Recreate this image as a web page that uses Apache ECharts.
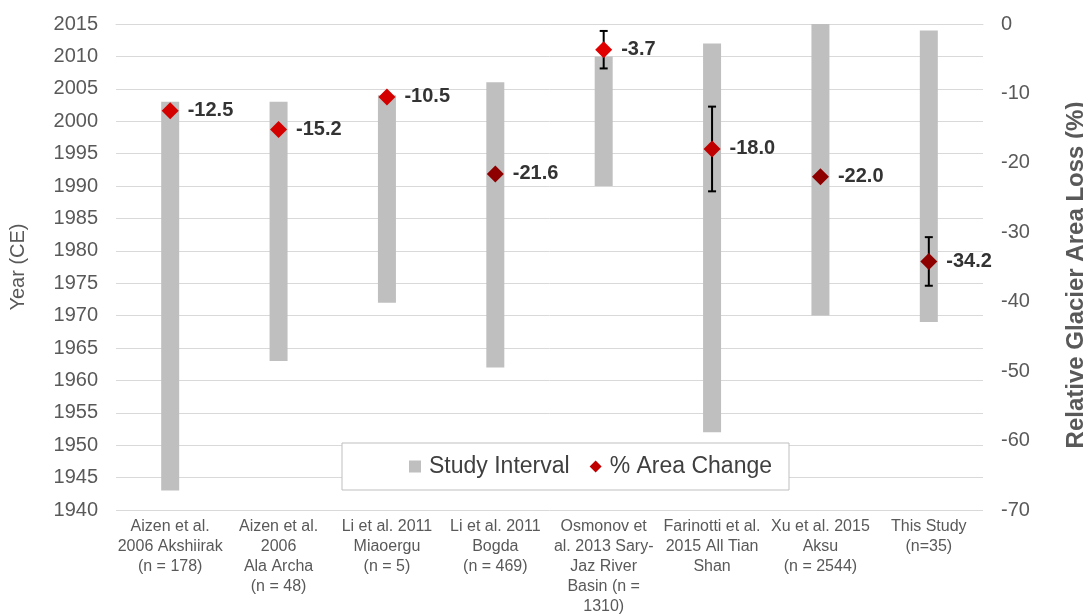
<!DOCTYPE html>
<html>
<head>
<meta charset="utf-8">
<script src="https://cdn.jsdelivr.net/npm/echarts@6/dist/echarts.min.js"></script>
<style>
  html, body { margin: 0; padding: 0; background: #ffffff; }
  #chart { width: 1083px; height: 614px; }
</style>
</head>
<body>
<div id="chart"></div>
<script>
// Studies compared along the horizontal axis
const categories = [
  'Aizen et al.\n2006 Akshiirak\n(n = 178)',
  'Aizen et al.\n2006\nAla Archa\n(n = 48)',
  'Li et al. 2011\nMiaoergu\n(n = 5)',
  'Li et al. 2011\nBogda\n(n = 469)',
  'Osmonov et\nal. 2013 Sary-\nJaz River\nBasin (n =\n1310)',
  'Farinotti et al.\n2015 All Tian\nShan',
  'Xu et al. 2015\nAksu\n(n = 2544)',
  'This Study\n(n=35)'
];

// Study interval (years CE)
const intervalStart = [1943, 1963, 1972, 1962, 1990, 1952, 1970, 1969];
const intervalEnd   = [2003, 2003, 2004, 2006, 2010, 2012, 2015, 2014];

// Relative glacier area change (%)
const areaChange = [-12.5, -15.2, -10.5, -21.6, -3.7, -18.0, -22.0, -34.2];

// Uncertainty range of the area change (%), null where none reported
const errorLow  = [null, null, null, null, -6.4, -24.1, null, -37.7];
const errorHigh = [null, null, null, null, -1.0, -11.9, null, -30.7];

// Axis ranges and tick steps
const yearAxis = { min: 1940, max: 2015, step: 5 };
const lossAxis = { min: -70, max: 0, step: 10 };

// Marker fill per study
const markerColors = ['#d40000', '#d40000', '#d40000', '#8e0000', '#e00000', '#c00000', '#8e0000', '#8e0000'];

const FONT = '"Liberation Sans", Arial, Helvetica, sans-serif';
const chart = echarts.init(document.getElementById('chart'), null, { renderer: 'canvas' });

const errorData = [];
areaChange.forEach((v, i) => {
  if (errorLow[i] !== null) errorData.push([i, errorLow[i], errorHigh[i]]);
});

chart.setOption({
  animation: false,
  backgroundColor: '#ffffff',
  textStyle: { fontFamily: FONT },
  grid: { left: 116, right: 100, top: 24, bottom: 104, containLabel: false, outerBoundsMode: 'none' },
  legend: {
    data: [
      { name: 'Study Interval', icon: 'rect' },
      { name: '% Area Change', icon: 'diamond' }
    ],
    left: 342,
    top: 443,
    padding: [12, 17, 12, 67],
    itemGap: 20,
    itemWidth: 12,
    itemHeight: 12,
    backgroundColor: '#ffffff',
    borderColor: '#bfbfbf',
    borderWidth: 1,
    textStyle: { fontFamily: FONT, fontSize: 23, color: '#404040', padding: [0, 0, 0, 3] }
  },
  xAxis: {
    type: 'category',
    data: categories,
    axisTick: { show: false },
    axisLine: { lineStyle: { color: '#d9d9d9', width: 1 } },
    axisLabel: {
      interval: 0,
      color: '#595959',
      fontFamily: FONT,
      fontSize: 16,
      lineHeight: 20,
      margin: 7,
      align: 'center'
    }
  },
  yAxis: [
    {
      type: 'value',
      min: yearAxis.min,
      max: yearAxis.max,
      interval: yearAxis.step,
      name: 'Year (CE)',
      nameLocation: 'middle',
      nameRotate: 90,
      nameGap: 88,
      nameTextStyle: { fontFamily: FONT, fontSize: 20, color: '#595959' },
      axisLine: { show: false },
      axisTick: { show: false },
      axisLabel: { color: '#595959', fontFamily: FONT, fontSize: 20, margin: 18, formatter: v => String(v) },
      splitLine: { lineStyle: { color: '#d9d9d9', width: 1 } }
    },
    {
      type: 'value',
      position: 'right',
      min: lossAxis.min,
      max: lossAxis.max,
      interval: lossAxis.step,
      name: 'Relative Glacier Area Loss (%)',
      nameLocation: 'middle',
      nameRotate: 90,
      nameGap: 81,
      nameTextStyle: { fontFamily: FONT, fontSize: 24, fontWeight: 'bold', color: '#595959', padding: [0, 16, 0, 0] },
      axisLine: { show: false },
      axisTick: { show: false },
      axisLabel: { color: '#595959', fontFamily: FONT, fontSize: 20, margin: 18, formatter: v => String(v) },
      splitLine: { show: false }
    }
  ],
  series: [
    {
      // invisible base that lifts each interval bar to its start year
      name: 'base',
      type: 'bar',
      stack: 'interval',
      barWidth: 18,
      silent: true,
      itemStyle: { color: 'rgba(0,0,0,0)' },
      data: intervalStart
    },
    {
      name: 'Study Interval',
      type: 'bar',
      stack: 'interval',
      barWidth: 18,
      itemStyle: { color: '#bfbfbf' },
      data: intervalEnd.map((e, i) => e - intervalStart[i])
    },
    {
      name: 'error',
      type: 'custom',
      yAxisIndex: 1,
      z: 5,
      silent: true,
      data: errorData,
      renderItem: function (params, api) {
        const top = api.coord([api.value(0), api.value(2)]);
        const bot = api.coord([api.value(0), api.value(1)]);
        const cap = 4;
        const style = { stroke: '#000000', lineWidth: 2 };
        return {
          type: 'group',
          children: [
            { type: 'line', shape: { x1: top[0], y1: top[1], x2: bot[0], y2: bot[1] }, style: style },
            { type: 'line', shape: { x1: top[0] - cap, y1: top[1], x2: top[0] + cap, y2: top[1] }, style: style },
            { type: 'line', shape: { x1: bot[0] - cap, y1: bot[1], x2: bot[0] + cap, y2: bot[1] }, style: style }
          ]
        };
      }
    },
    {
      name: '% Area Change',
      type: 'scatter',
      yAxisIndex: 1,
      z: 10,
      symbol: 'diamond',
      symbolSize: 17,
      itemStyle: { color: '#c00000', opacity: 1 },
      label: {
        show: true,
        position: 'right',
        distance: 9,
        fontFamily: FONT,
        fontSize: 20,
        fontWeight: 'bold',
        color: '#333333',
        formatter: p => p.value.toFixed(1)
      },
      data: areaChange.map((v, i) => ({ value: v, itemStyle: { color: markerColors[i], opacity: 1 } }))
    }
  ]
});
</script>
</body>
</html>
